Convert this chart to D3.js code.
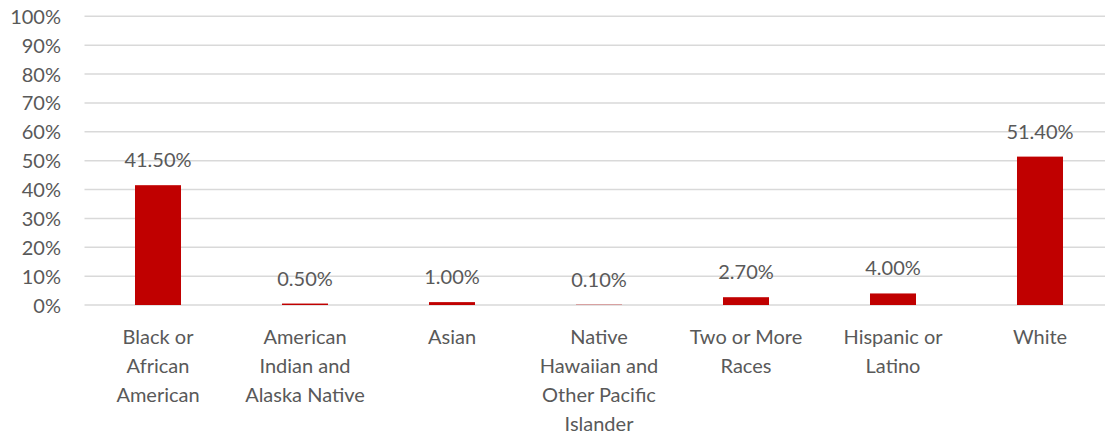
<!DOCTYPE html>
<html>
<head>
<meta charset="utf-8">
<script src="https://cdn.jsdelivr.net/npm/d3@7"></script>
<style>
  html, body { margin: 0; padding: 0; background: #fff; }
  svg { display: block; }
  text { font-family: Lato, "Open Sans", sans-serif; fill: #595959; }
</style>
</head>
<body>
<svg id="chart" width="1105" height="436"></svg>
<script>
const categories = ["Black or African American", "American Indian and Alaska Native", "Asian", "Native Hawaiian and Other Pacific Islander", "Two or More Races", "Hispanic or Latino", "White"];
const values = [41.5, 0.5, 1.0, 0.1, 2.7, 4.0, 51.4];
const yTicks = [0, 10, 20, 30, 40, 50, 60, 70, 80, 90, 100];

(function() {
const svg = d3.select("#chart");
const plotLeft = 84.5, plotRight = 1113.5, plotTop = 16.3, plotBottom = 305;

const x = d3.scaleBand().domain(categories).range([plotLeft, plotRight]).paddingInner(0.687).paddingOuter(0.3435);
const y = d3.scaleLinear().domain([0, 100]).range([plotBottom, plotTop]);

// gridlines
svg.append("g").selectAll("line").data(yTicks).join("line")
  .attr("x1", plotLeft).attr("x2", 1105)
  .attr("y1", d => y(d)).attr("y2", d => y(d))
  .attr("stroke", "#d9d9d9").attr("stroke-width", 1.5);

// y axis labels
const yAxis = d3.axisLeft(y).tickValues(yTicks).tickFormat(d => d + "%").tickSize(0).tickPadding(0);
const yg = svg.append("g").attr("transform", `translate(61,0)`).call(yAxis);
yg.select(".domain").remove();
yg.selectAll("text").style("font-family", "Lato, sans-serif").style("font-size", "20px").attr("fill", "#595959").attr("dy", "0.35em");

// bars
svg.append("g").selectAll("rect").data(values).join("rect")
  .attr("x", (d, i) => x(categories[i]))
  .attr("width", x.bandwidth())
  .attr("y", d => y(d))
  .attr("height", d => y(0) - y(d))
  .attr("fill", "#c00000");

// value labels
svg.append("g").selectAll("text").data(values).join("text")
  .attr("x", (d, i) => x(categories[i]) + x.bandwidth() / 2)
  .attr("y", d => y(d) - 18)
  .attr("text-anchor", "middle")
  .style("font-size", "20px")
  .text(d => d.toFixed(2) + "%");

// x axis labels with wrapping
const xAxis = d3.axisBottom(x).tickSize(0).tickPadding(0);
const xg = svg.append("g").attr("transform", `translate(0,${plotBottom})`).call(xAxis);
xg.select(".domain").remove();
xg.selectAll("text").style("font-family", "Lato, sans-serif").style("font-size", "20px").attr("fill", "#595959")
  .each(function(d) {
    const t = d3.select(this);
    const words = d.split(" ");
    t.text(null);
    const maxW = 135;
    let lines = [], line = [];
    const tmp = t.append("tspan");
    words.forEach(w => {
      line.push(w);
      tmp.text(line.join(" "));
      if (tmp.node().getComputedTextLength() > maxW && line.length > 1) {
        line.pop();
        lines.push(line.join(" "));
        line = [w];
      }
    });
    lines.push(line.join(" "));
    tmp.remove();
    t.attr("y", 0).attr("dy", null);
    lines.forEach((l, i) => {
      t.append("tspan").attr("x", 0).attr("y", 39 + i * 29).text(l);
    });
  });
})();
</script>
</body>
</html>
